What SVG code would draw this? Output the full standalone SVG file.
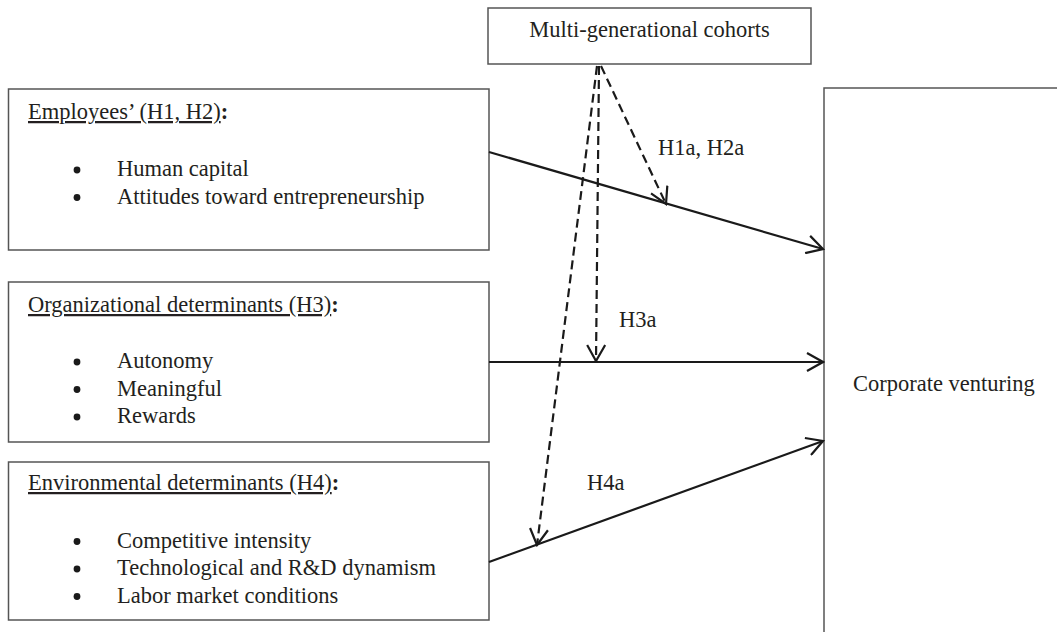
<svg xmlns="http://www.w3.org/2000/svg" width="1057" height="632" viewBox="0 0 1057 632">
<style>
.box{fill:#fff;stroke:#555;stroke-width:1.5}
.t{font-family:"Liberation Serif","Times New Roman",serif;font-size:22.5px;fill:#231f20}
.u{text-decoration:underline}
.b{font-weight:bold}
.solid{fill:none;stroke:#1a1a1a;stroke-width:2.2}
.dash{fill:none;stroke:#1a1a1a;stroke-width:2.2;stroke-dasharray:9 5}
.dot{fill:#1a1a1a}
</style>
<defs>
<marker id="arr" viewBox="0 0 20 20" refX="18" refY="10" markerWidth="20" markerHeight="20" markerUnits="userSpaceOnUse" orient="auto">
<path d="M2,1 L18,10 L2,19" fill="none" stroke="#1a1a1a" stroke-width="2.2"/>
</marker>
</defs>
<rect width="1057" height="632" fill="#fff"/>
<g id="multi">
<rect class="box" x="488" y="8" width="323" height="56"/>
<text class="t" x="649.5" y="37" text-anchor="middle">Multi-generational cohorts</text>
</g>
<g id="employees">
<rect class="box" x="8.5" y="89" width="480.5" height="161"/>
<text class="t" x="28" y="119"><tspan class="u">Employees’ (H1, H2)</tspan><tspan class="b">:</tspan></text>
<circle class="dot" cx="77" cy="170" r="3.4"/>
<text class="t" x="117" y="176">Human capital</text>
<circle class="dot" cx="77" cy="197.5" r="3.4"/>
<text class="t" x="117" y="203.5">Attitudes toward entrepreneurship</text>
</g>
<g id="organizational">
<rect class="box" x="8.5" y="282" width="480.5" height="160"/>
<text class="t" x="28" y="312"><tspan class="u">Organizational determinants (H3)</tspan><tspan class="b">:</tspan></text>
<circle class="dot" cx="77" cy="362" r="3.4"/>
<text class="t" x="117" y="368">Autonomy</text>
<circle class="dot" cx="77" cy="389.5" r="3.4"/>
<text class="t" x="117" y="395.5">Meaningful</text>
<circle class="dot" cx="77" cy="417" r="3.4"/>
<text class="t" x="117" y="423">Rewards</text>
</g>
<g id="environmental">
<rect class="box" x="8.5" y="462" width="480.5" height="158"/>
<text class="t" x="28" y="490"><tspan class="u">Environmental determinants (H4)</tspan><tspan class="b">:</tspan></text>
<circle class="dot" cx="77" cy="541.5" r="3.4"/>
<text class="t" x="117" y="547.5">Competitive intensity</text>
<circle class="dot" cx="77" cy="569" r="3.4"/>
<text class="t" x="117" y="575">Technological and R&amp;D dynamism</text>
<circle class="dot" cx="77" cy="596.5" r="3.4"/>
<text class="t" x="117" y="602.5">Labor market conditions</text>
</g>
<g id="corporate">
<rect class="box" x="824" y="88" width="300" height="600"/>
<text class="t" x="853" y="391">Corporate venturing</text>
</g>
<g id="connectors">
<line class="solid" x1="489" y1="152" x2="823" y2="249" marker-end="url(#arr)"/>
<line class="solid" x1="489" y1="362" x2="823" y2="362" marker-end="url(#arr)"/>
<line class="solid" x1="489" y1="562" x2="823" y2="441" marker-end="url(#arr)"/>
<line class="dash" x1="601" y1="66" x2="666" y2="204" marker-end="url(#arr)"/>
<line class="dash" x1="599" y1="66" x2="596" y2="361" marker-end="url(#arr)"/>
<line class="dash" x1="597" y1="66" x2="537" y2="545" marker-end="url(#arr)"/>
<text class="t" x="658" y="155">H1a, H2a</text>
<text class="t" x="619" y="327">H3a</text>
<text class="t" x="587" y="490">H4a</text>
</g>
</svg>
